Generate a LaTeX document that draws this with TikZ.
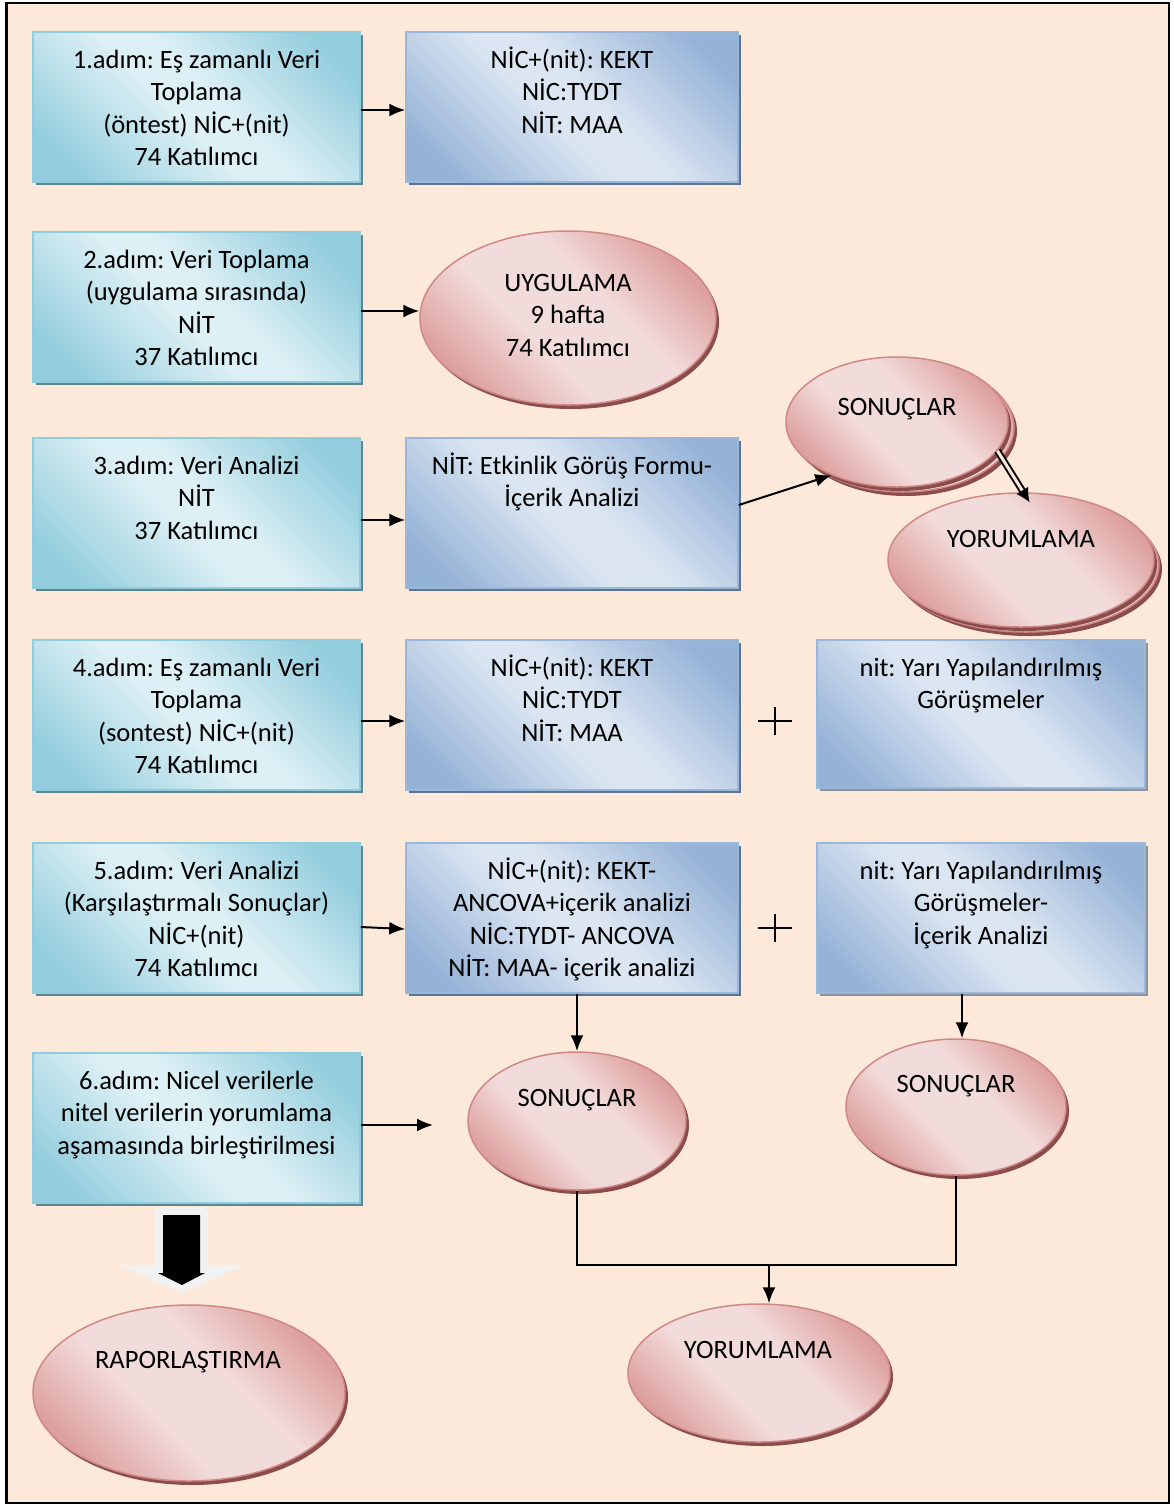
\documentclass[tikz,border=0pt]{standalone}
\usepackage{fontspec}
\setmainfont{Carlito}
\frenchspacing
\usetikzlibrary{shapes.geometric,arrows.meta,shadows}
\definecolor{bgc}{HTML}{FDE9D9}
\definecolor{cyL}{HTML}{DDF0F5}
\definecolor{cyD}{HTML}{93CDDD}
\definecolor{cyB}{HTML}{8FCCDC}
\definecolor{cyS}{HTML}{5E8690}
\definecolor{blL}{HTML}{DCE6F2}
\definecolor{blD}{HTML}{95B3D7}
\definecolor{blB}{HTML}{9AB6D9}
\definecolor{blS}{HTML}{5B7594}
\definecolor{grS}{HTML}{8D939B}
\definecolor{pkL}{HTML}{F2DCDB}
\definecolor{pkD}{HTML}{D99694}
\definecolor{pkB}{HTML}{D08887}
\definecolor{pkS}{HTML}{8A4D4C}
\definecolor{arW}{HTML}{F2F2F2}
\pgfdeclarehorizontalshading{cysh}{100bp}{color(0bp)=(cyD); color(22bp)=(cyD); color(46bp)=(cyL); color(54bp)=(cyL); color(78bp)=(cyD); color(100bp)=(cyD)}
\pgfdeclarehorizontalshading{blsh}{100bp}{color(0bp)=(blD); color(22bp)=(blD); color(46bp)=(blL); color(54bp)=(blL); color(78bp)=(blD); color(100bp)=(blD)}
\pgfdeclarehorizontalshading{pksh}{100bp}{color(0bp)=(pkD); color(22bp)=(pkD); color(42bp)=(pkL); color(58bp)=(pkL); color(78bp)=(pkD); color(100bp)=(pkD)}
\newcommand\mlines[2]{\parbox[t]{#1pt}{\centering #2}}
\begin{document}
\begin{tikzpicture}[x=1pt,y=-1pt,
  cbox/.style={rectangle, draw=cyB, line width=1.5pt, shading=cysh, shading angle=45,
    drop shadow={shadow xshift=3pt, shadow yshift=-3pt, fill=cyS, opacity=1},
    minimum width=327pt, minimum height=150pt, inner sep=0pt},
  bbox/.style={rectangle, draw=blB, line width=1.5pt, shading=blsh, shading angle=45,
    drop shadow={shadow xshift=3pt, shadow yshift=-3pt, fill=blS, opacity=1},
    minimum width=332pt, minimum height=150pt, inner sep=0pt},
  rbox/.style={rectangle, draw=blB, line width=1.5pt, shading=blsh, shading angle=45,
    drop shadow={shadow xshift=3pt, shadow yshift=-3pt, fill=grS, opacity=1},
    minimum width=328pt, minimum height=150pt, inner sep=0pt},
  ell/.style={ellipse, draw=pkB, line width=1.5pt, shading=pksh, shading angle=45,
    drop shadow={shadow xshift=3pt, shadow yshift=-4pt, fill=pkS, opacity=1},
    inner sep=0pt},
  txt/.style={anchor=base, inner sep=0pt, font=\fontsize{26.5}{32.6}\selectfont},
  arr/.style={line width=2pt, -{Latex[length=16pt,width=13pt]}},
  link/.style={line width=2pt},
  plus/.style={line width=1.3pt}
]
\useasboundingbox (0,0) rectangle (1173,1505);
\fill[bgc] (6.5,3) rectangle (1169,1503);
\draw[line width=2.5pt] (6.5,3) rectangle (1169,1503);

% left column
\node[cbox] (c1) at (196.5,107) {};
\node[txt] (t1) at (196.5,68) {\mlines{320}{1.adım: Eş zamanlı Veri\\Toplama\\(öntest) NİC+(nit)\\74 Katılımcı}};
\node[cbox] (c2) at (196.5,307) {};
\node[txt] (t2) at (196.5,268) {\mlines{320}{2.adım: Veri Toplama\\(uygulama sırasında)\\NİT\\37 Katılımcı}};
\node[cbox] (c3) at (196.5,513) {};
\node[txt] (t3) at (196.5,474) {\mlines{320}{3.adım: Veri Analizi\\NİT\\37 Katılımcı}};
\node[cbox] (c4) at (196.5,715) {};
\node[txt] (t4) at (196.5,676) {\mlines{320}{4.adım: Eş zamanlı Veri\\Toplama\\(sontest) NİC+(nit)\\74 Katılımcı}};
\node[cbox] (c5) at (196.5,918) {};
\node[txt] (t5) at (196.5,879) {\mlines{320}{5.adım: Veri Analizi\\(Karşılaştırmalı Sonuçlar)\\NİC+(nit)\\74 Katılımcı}};
\node[cbox] (c6) at (196.5,1128) {};
\node[txt] (t6) at (196.5,1089) {\mlines{320}{6.adım: Nicel verilerle\\nitel verilerin yorumlama\\aşamasında birleştirilmesi}};

% middle column
\node[bbox] (b1) at (572,107) {};
\node[txt] (tb1) at (572,68) {\mlines{320}{NİC+(nit): KEKT\\NİC:TYDT\\NİT: MAA}};
\node[bbox] (b3) at (572,513) {};
\node[txt] (tb3) at (572,474) {\mlines{320}{NİT: Etkinlik Görüş Formu-\\İçerik Analizi}};
\node[bbox] (b4) at (572,715) {};
\node[txt] (tb4) at (572,676) {\mlines{320}{NİC+(nit): KEKT\\NİC:TYDT\\NİT: MAA}};
\node[bbox] (b5) at (572,918) {};
\node[txt] (tb5) at (572,879) {\mlines{320}{NİC+(nit): KEKT-\\ANCOVA+içerik analizi\\NİC:TYDT- ANCOVA\\NİT: MAA- içerik analizi}};

% right column
\node[rbox, minimum height=148pt] (r4) at (981,714) {};
\node[txt] (tr4) at (981,676) {\mlines{320}{nit: Yarı Yapılandırılmış\\Görüşmeler}};
\node[rbox] (r5) at (981,918) {};
\node[txt] (tr5) at (981,879) {\mlines{320}{nit: Yarı Yapılandırılmış\\Görüşmeler-\\İçerik Analizi}};

% ellipses
\node[ell, minimum width=296pt, minimum height=174pt] (u) at (568,318) {};
\node[txt] (tu) at (568,291) {\mlines{250}{UYGULAMA\\9 hafta\\74 Katılımcı}};

\node[ell, minimum width=222pt, minimum height=130pt] (son2) at (903,427) {};
\node[ell, minimum width=222pt, minimum height=130pt] (son) at (897,422) {};
\node[txt] (tson) at (897,415) {SONUÇLAR};

\node[ell, minimum width=266pt, minimum height=134pt] (yor2) at (1026,565) {};
\node[ell, minimum width=266pt, minimum height=134pt] (yor) at (1021,560) {};
\node[txt] (tyor) at (1021,547) {YORUMLAMA};

\node[ell, minimum width=218pt, minimum height=138pt] (sonL) at (577,1121) {};
\node[txt] (tsonL) at (577,1106) {SONUÇLAR};
\node[ell, minimum width=220pt, minimum height=136pt] (sonR) at (956,1107) {};
\node[txt] (tsonR) at (956,1092) {SONUÇLAR};
\node[ell, minimum width=262pt, minimum height=138pt] (yorB) at (759,1373) {};
\node[txt] (tyorB) at (758,1358) {YORUMLAMA};
\node[ell, minimum width=312pt, minimum height=176pt] (rap) at (189,1393) {};
\node[txt] (trap) at (188,1368) {RAPORLAŞTIRMA};

% plus signs
\draw[plus] (758,721) -- (792,721) (775,707) -- (775,735);
\draw[plus] (758,928) -- (792,928) (775,914) -- (775,942);

% connectors
\draw[arr] ([yshift=-3pt]c1.east) -- ([yshift=-3pt]b1.west);
\draw[arr] ([yshift=-4pt]c2.east) -- ([yshift=7pt]u.west);
\draw[arr] ([yshift=-7pt]c3.east) -- ([yshift=-7pt]b3.west);
\draw[arr] ([yshift=-6pt]c4.east) -- ([yshift=-6pt]b4.west);
\draw[arr] ([yshift=-9pt]c5.east) -- ([yshift=-11pt]b5.west);
\coordinate (e6) at (433,1125);
\draw[arr] ([yshift=3pt]c6.east) -- (e6);
\draw[arr] ([yshift=8pt]b3.east) -- (son.219);
\draw[line width=2pt, double=bgc, double distance=3pt, -{Latex[length=14pt,width=14pt]}, shorten >=-12pt] (son.-16) -- (yor.88);
\draw[arr] (b5.south -| sonL.north) -- (sonL.north);
\draw[arr] ([xshift=-19pt]r5.south) -- ([xshift=-19pt]r5.south |- sonR.north);
\coordinate (mL) at (577,1265);
\coordinate (mR) at (956,1265);
\coordinate (mM) at (769,1265);
\draw[link] (sonL.south) -- (mL) -- (mR) -- (sonR.south);
\draw[arr] (mM) -- (mM |- yorB.north);

% block arrow
\fill[arW] (155,1207) -- (208,1207) -- (208,1265) -- (245,1265) -- (182,1293) -- (120,1265) -- (155,1265) -- cycle;
\fill[black] (163,1215) -- (200,1215) -- (200,1273) -- (205,1273) -- (182,1285) -- (158,1273) -- (163,1273) -- cycle;
\end{tikzpicture}
\end{document}
